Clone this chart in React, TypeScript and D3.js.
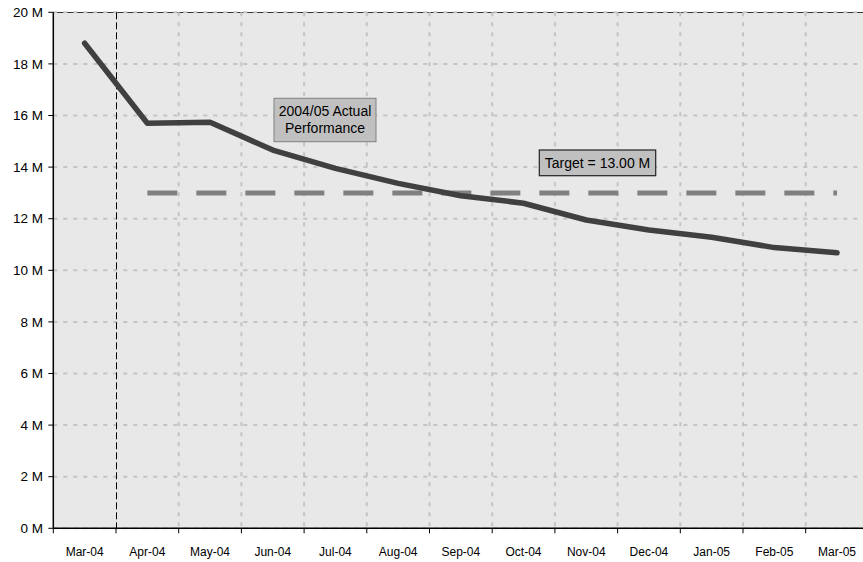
import React from "react";
import * as d3 from "d3";

const months = ["Mar-04", "Apr-04", "May-04", "Jun-04", "Jul-04", "Aug-04", "Sep-04", "Oct-04", "Nov-04", "Dec-04", "Jan-05", "Feb-05", "Mar-05"];
const actual = [18.8, 15.7, 15.74, 14.66, 13.95, 13.37, 12.89, 12.6, 11.95, 11.56, 11.28, 10.88, 10.68];
const targetMonths = ["Apr-04", "May-04", "Jun-04", "Jul-04", "Aug-04", "Sep-04", "Oct-04", "Nov-04", "Dec-04", "Jan-05", "Feb-05", "Mar-05"];
const targetValue = 13;
const yTicks = [0, 2, 4, 6, 8, 10, 12, 14, 16, 18, 20];
const actualLabel = ["2004/05 Actual", "Performance"];
const targetLabel = "Target = 13.00 M";
const dividerMonth = "Apr-04";

const W = 863;
const H = 562;
const left = 53.3;
const top = 12.3;
const bottom = 528.3;
const band = 62.7;

export default function App() {
  const x = d3.scaleBand<string>().domain(months).range([left, left + band * months.length]).padding(0);
  const y = d3.scaleLinear().domain([0, 20]).range([bottom, top]);
  const cx = (m: string) => (x(m) as number) + x.bandwidth() / 2;
  const right = left + band * months.length;

  const line = d3.line<number>().x((_, i) => cx(months[i])).y((d) => y(d));
  const tline = d3.line<string>().x((m) => cx(m)).y(() => y(targetValue));

  const font = "'Liberation Sans', Arial, sans-serif";
  const bounds = months.map((m) => x(m) as number).slice(1);
  const divX = Math.floor(x(dividerMonth) as number) + 0.5;

  return (
    <svg width={W} height={H} style={{ position: "absolute", left: 0, top: 0, background: "#fff" }} fontFamily={font}>
      <rect x={left} y={top} width={right - left} height={bottom - top} fill="#e8e8e8" />
      <line x1={left} x2={right} y1={12.5} y2={12.5} stroke="#333" strokeWidth={1} />
      {yTicks.map((t) => (
        <line key={"gy" + t} x1={left} x2={right} y1={y(t)} y2={y(t)} stroke="#c4c4c4" strokeWidth={2} strokeDasharray="4,6" />
      ))}
      {bounds.map((b, i) =>
        months[i + 1] === dividerMonth ? null : (
          <line key={"gx" + i} x1={b} x2={b} y1={top} y2={bottom} stroke="#c4c4c4" strokeWidth={2} strokeDasharray="4,6" />
        )
      )}
      <line x1={divX} x2={divX} y1={top} y2={bottom} stroke="#000" strokeWidth={1} strokeDasharray="7,3" />
      <path d={tline(targetMonths) || ""} fill="none" stroke="#808080" strokeWidth={5} strokeDasharray="30,19" />
      <path d={line(actual) || ""} fill="none" stroke="#404040" strokeWidth={5.5} strokeLinejoin="round" strokeLinecap="round" />
      <line x1={left} x2={left} y1={top} y2={bottom} stroke="#000" strokeWidth={1.5} />
      <line x1={left} x2={right} y1={bottom} y2={bottom} stroke="#000" strokeWidth={1.5} />
      {yTicks.map((t) => (
        <g key={"yt" + t}>
          <line x1={left - 5} x2={left} y1={y(t)} y2={y(t)} stroke="#000" strokeWidth={1} />
          <text x={43} y={y(t)} dy="0.35em" textAnchor="end" fontSize={13.5}>
            {t + " M"}
          </text>
        </g>
      ))}
      {months.map((m) => (
        <line key={"xt" + m} x1={x(m) as number} x2={x(m) as number} y1={bottom} y2={bottom + 5} stroke="#000" strokeWidth={1} />
      ))}
      {months.map((m) => (
        <text key={"xl" + m} x={cx(m)} y={556} textAnchor="middle" fontSize={12}>
          {m}
        </text>
      ))}
      <rect x={274} y={98.3} width={102} height={43.4} fill="#c0c0c0" stroke="#808080" strokeWidth={1} />
      {actualLabel.map((s, i) => (
        <text key={s} x={325} y={110.7 + i * 17.6} dy="0.35em" textAnchor="middle" fontSize={14}>
          {s}
        </text>
      ))}
      <rect x={539.3} y={150} width={116.4} height={25.7} fill="#c0c0c0" stroke="#222" strokeWidth={1.2} />
      <text x={597.5} y={162.7} dy="0.35em" textAnchor="middle" fontSize={14}>
        {targetLabel}
      </text>
    </svg>
  );
}
